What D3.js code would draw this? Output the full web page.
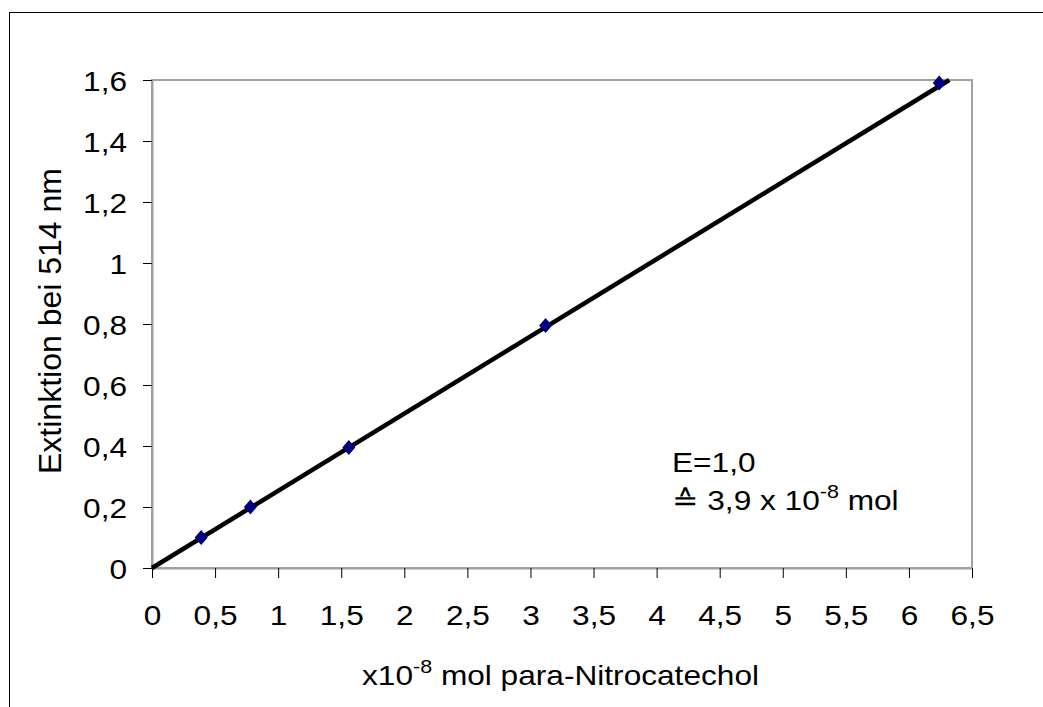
<!DOCTYPE html>
<html><head><meta charset="utf-8">
<script src="https://cdn.jsdelivr.net/npm/d3@7"></script>
<style>body{margin:0;background:#fff}svg{display:block}text{font-family:"Liberation Sans",Arial,sans-serif;fill:#000}</style>
</head><body>
<script>
const xValues = [0.39, 0.78, 1.56, 3.12, 6.24];
const yValues = [0.1, 0.2, 0.395, 0.795, 1.59];
const trendX = [0, 6.32];
const trendY = [0, 1.6];
const xTicks = [0,0.5,1,1.5,2,2.5,3,3.5,4,4.5,5,5.5,6,6.5];
const yTicks = [0,0.2,0.4,0.6,0.8,1,1.2,1.4,1.6];
const fmt = d => String(d).replace('.', ',');

const W = 1043, H = 707;
const SX = 1.13, FS = 28;
const svg = d3.select('body').append('svg').attr('width', W).attr('height', H);
svg.append('rect').attr('x', 9.5).attr('y', 12.5).attr('width', 1200).attr('height', 1000)
  .attr('fill', 'none').attr('stroke', '#000').attr('stroke-width', 1);

const L = 152, R = 972, T = 80, B = 568;
const x = d3.scaleLinear().domain([0, 6.5]).range([L, R]);
const y = d3.scaleLinear().domain([0, 1.6]).range([B, T]);

svg.append('rect').attr('x', L).attr('y', T).attr('width', R - L).attr('height', B - T)
  .attr('fill', 'none').attr('stroke', '#a0a0a0').attr('stroke-width', 2);

const xa = svg.append('g').attr('transform', `translate(0,${B})`)
  .call(d3.axisBottom(x).tickValues(xTicks).tickFormat(fmt).tickSize(10).tickSizeOuter(0).tickPadding(0));
const ya = svg.append('g').attr('transform', `translate(${L},0)`)
  .call(d3.axisLeft(y).tickValues(yTicks).tickFormat(fmt).tickSize(9).tickSizeOuter(0).tickPadding(16));
[xa, ya].forEach(g => {
  g.select('.domain').attr('stroke', '#a0a0a0').attr('stroke-width', 2);
  g.selectAll('.tick line').attr('stroke', '#000').attr('stroke-width', 1);
  g.selectAll('.tick text').attr('font-size', FS).attr('font-family', '"Liberation Sans",Arial,sans-serif')
    .attr('transform', `scale(${SX},1)`);
});
xa.selectAll('.tick text').attr('y', 57).attr('dy', null);
ya.selectAll('.tick text').attr('x', -25 / SX).attr('dy', '0.36em');

// trendline
const line = d3.line().x(d => x(d[0])).y(d => y(d[1]));
svg.append('path').datum(trendX.map((v, i) => [v, trendY[i]]))
  .attr('d', line).attr('fill', 'none').attr('stroke', '#000').attr('stroke-width', 4.5);

// markers (diamonds)
const diamond = { draw(ctx) { ctx.moveTo(0, -7.5); ctx.lineTo(6.5, 0); ctx.lineTo(0, 7.5); ctx.lineTo(-6.5, 0); ctx.closePath(); } };
svg.selectAll('.pt').data(xValues.map((v, i) => [v, yValues[i]])).enter()
  .append('path').attr('class', 'pt')
  .attr('d', d3.symbol().type(diamond))
  .attr('transform', d => `translate(${x(d[0])},${y(d[1])})`)
  .attr('fill', '#000080');

function stext(px, py, size) {
  return svg.append('g').attr('transform', `translate(${px},${py}) scale(${SX},1)`)
    .append('text').attr('font-size', size);
}

// x axis title
const xt = stext(362, 685, FS);
xt.append('tspan').text('x10');
xt.append('tspan').attr('dy', -12).attr('font-size', 19).text('-8');
xt.append('tspan').attr('dy', 12).text(' mol para-Nitrocatechol');

// y axis title
svg.append('text').attr('transform', 'translate(61,321) rotate(-90)')
  .attr('text-anchor', 'middle').attr('font-size', 32).text('Extinktion bei 514 nm');

// annotation
stext(672, 472, FS).text('E=1,0');
const an = stext(672, 510, FS);
an.append('tspan').text('≙ 3,9 x 10');
an.append('tspan').attr('dy', -12).attr('font-size', 19).text('-8');
an.append('tspan').attr('dy', 12).text(' mol');
</script>
</body></html>
